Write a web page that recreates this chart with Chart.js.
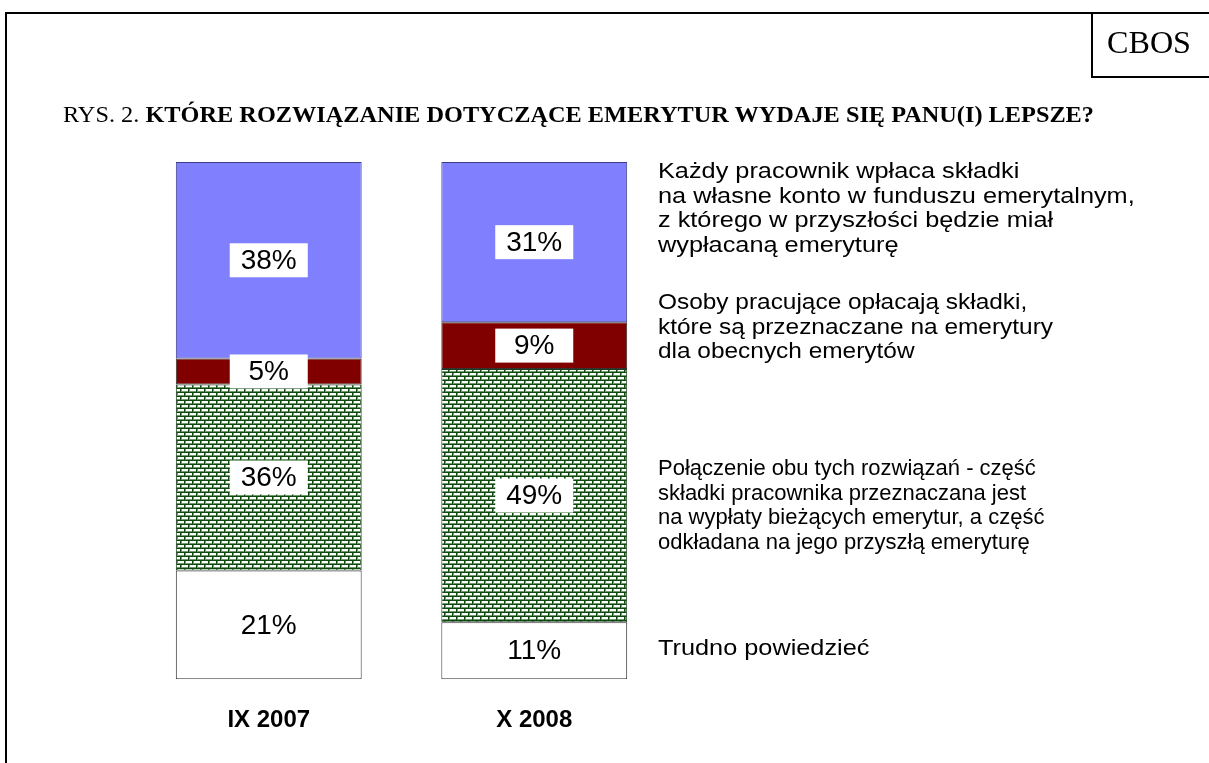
<!DOCTYPE html>
<html>
<head>
<meta charset="utf-8">
<script src="https://cdn.jsdelivr.net/npm/chart.js@4.4.1/dist/chart.umd.min.js"></script>
<style>
  html, body { margin: 0; padding: 0; background: #fff; }
  #wrap { position: relative; width: 1209px; height: 763px; overflow: hidden; }
  #frame { position: absolute; left: 5px; top: 12px; width: 1210px; height: 800px;
           border-top: 2px solid #000; border-left: 2px solid #000; box-sizing: border-box; }
  #cbosBox { position: absolute; left: 1091px; top: 12px; width: 130px; height: 66px;
             border-left: 2px solid #000; border-bottom: 2px solid #000; box-sizing: border-box; }
  #cbos { position: absolute; left: 1107px; top: 25px; white-space: nowrap; line-height: 36px;
          font: 31px "Liberation Serif", "Times New Roman", serif; transform-origin: 0 0; }
  #title { position: absolute; left: 63px; top: 102px; white-space: nowrap;
           font: 23px "Liberation Serif", "Times New Roman", serif; transform-origin: 0 0; }
  #title b { font-weight: bold; }
  .leg { position: absolute; left: 658px; font: 22px "Liberation Sans", Arial, sans-serif;
         line-height: 24.5px; white-space: nowrap; color: #000; transform-origin: 0 0; }
  canvas { position: absolute; left: 0; top: 0; }
</style>
</head>
<body>
<div id="wrap">
  <canvas id="chart" width="1209" height="763"></canvas>
  <div id="frame"></div>
  <div id="cbosBox"></div>
  <div id="cbos">CBOS</div>
  <div id="title">RYS. 2. <b>KTÓRE ROZWIĄZANIE DOTYCZĄCE EMERYTUR WYDAJE SIĘ PANU(I) LEPSZE?</b></div>
  <div class="leg" style="top:159px; transform:scaleX(1.15)">Każdy pracownik wpłaca składki<br>na własne konto w funduszu emerytalnym,<br>z którego w przyszłości będzie miał<br>wypłacaną emeryturę</div>
  <div class="leg" style="top:290px; transform:scaleX(1.11)">Osoby pracujące opłacają składki,<br>które są przeznaczane na emerytury<br>dla obecnych emerytów</div>
  <div class="leg" style="top:456px">Połączenie obu tych rozwiązań - część<br>składki pracownika przeznaczana jest<br>na wypłaty bieżących emerytur, a część<br>odkładana na jego przyszłą emeryturę</div>
  <div class="leg" style="top:636px; transform:scaleX(1.15)">Trudno powiedzieć</div>
</div>
<script>
// dane
var categories = ['IX 2007', 'X 2008'];
var kazdyPracownik = [38, 31];
var osobyPracujace = [5, 9];
var polaczenie = [36, 49];
var trudno = [21, 11];

// fit header texts to the widths in the original
function fitWidth(id, target) {
    var el = document.getElementById(id);
    var w = el.getBoundingClientRect().width;
    el.style.transform = 'scaleX(' + (target / w) + ')';
}
fitWidth('title', 1031);
fitWidth('cbos', 84);

// brick pattern
function brickPattern() {
    var c = document.createElement('canvas');
    c.width = 8; c.height = 8;
    var g = c.getContext('2d');
    g.fillStyle = '#fff';
    g.fillRect(0, 0, 8, 8);
    g.fillStyle = '#6f986f';
    g.fillRect(0, 3, 8, 1);
    g.fillRect(0, 7, 8, 1);
    g.fillRect(1, 1, 1, 2);
    g.fillRect(5, 5, 1, 2);
    g.fillStyle = '#0e4a0e';
    g.fillRect(0, 0, 8, 1);
    g.fillRect(0, 4, 8, 1);
    g.fillRect(0, 1, 1, 3);
    g.fillRect(4, 5, 1, 3);
    return g.createPattern(c, 'repeat');
}

// labels on segments
var segLabels = {
    id: 'segLabels',
    afterDatasetsDraw: function (chart) {
        var ctx = chart.ctx;
        ctx.save();
        ctx.font = '28px "Liberation Sans", Arial, sans-serif';
        ctx.textAlign = 'center';
        ctx.textBaseline = 'middle';
        chart.data.datasets.forEach(function (ds, i) {
            var meta = chart.getDatasetMeta(i);
            meta.data.forEach(function (bar, j) {
                var cy = (bar.y + bar.base) / 2;
                if (ds.labelBox) {
                    ctx.fillStyle = '#fff';
                    ctx.fillRect(bar.x - 39, cy - 17, 78, 34);
                }
                ctx.fillStyle = '#000';
                ctx.fillText(ds.data[j] + '%', bar.x, cy + 1);
            });
        });
        ctx.restore();
    }
};

new Chart('chart', {
    type: 'bar',
    data: {
        labels: categories,
        datasets: [
            { label: 'Trudno powiedzieć', data: trudno, backgroundColor: '#fff', borderColor: '#333', labelBox: false },
            { label: 'Połączenie', data: polaczenie, backgroundColor: brickPattern(), borderColor: '#1a3a1a', labelBox: true },
            { label: 'Osoby pracujące', data: osobyPracujace, backgroundColor: '#800000', borderColor: '#333', labelBox: true },
            { label: 'Każdy pracownik', data: kazdyPracownik, backgroundColor: '#8080ff', borderColor: '#3c3c8c', labelBox: true }
        ]
    },
    options: {
        responsive: false,
        animation: false,
        layout: { padding: { left: 136, right: 542, top: 162, bottom: 1 } },
        datasets: { bar: { barPercentage: 0.7, categoryPercentage: 1, borderWidth: 1, borderSkipped: false } },
        scales: {
            x: {
                stacked: true,
                grid: { display: false, drawTicks: false },
                border: { display: false },
                ticks: { color: '#000', padding: 27, font: { family: '"Liberation Sans", Arial, sans-serif', size: 24, weight: 'bold' } }
            },
            y: { stacked: true, display: false, min: 0, max: 100 }
        },
        plugins: { legend: { display: false }, tooltip: { enabled: false } }
    },
    plugins: [segLabels]
});
</script>
</body>
</html>
